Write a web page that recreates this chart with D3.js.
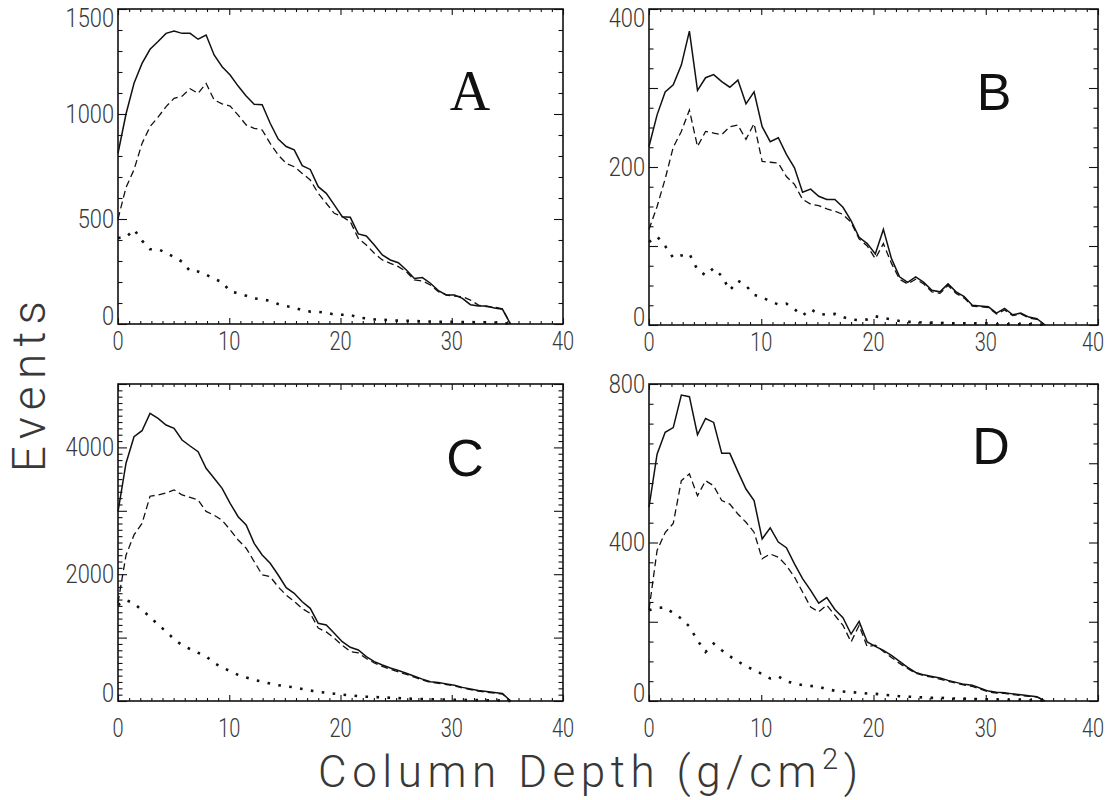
<!DOCTYPE html>
<html><head><meta charset="utf-8">
<script src="https://cdn.jsdelivr.net/npm/d3@7"></script>
<style>body{margin:0;background:#fff}svg{display:block}</style>
</head><body>
<svg id="chart" width="1106" height="800"></svg>
<script>
// ---------- data ----------
const depth = [0,0.72,1.44,2.16,2.88,3.6,4.32,5.04,5.76,6.48,7.2,7.92,8.64,9.36,10.08,10.8,11.52,12.24,12.96,13.68,
  14.4,15.12,15.84,16.56,17.28,18,18.72,19.44,20.16,20.88,21.6,22.32,23.04,23.76,24.48,25.2,25.92,26.64,27.36,28.08,
  28.8,29.52,30.24,30.96,31.68,32.4,33.12,33.84,34.56,35.28];

const solidA  = [813,1000,1146,1241,1308,1345,1384,1395,1384,1384,1356,1376,1281,1225,1186,1133,1086,1046,1044,956,
  881,845,829,754,736,654,622,567,511,508,429,419,376,329,305,292,257,217,221,194,159,138,138,122,92,86,86,76,70,0];
const dashedA = [500,650,735,860,940,985,1035,1075,1085,1120,1098,1146,1067,1048,1038,995,948,932,924,860,
  805,765,749,717,686,622,575,527,511,487,408,376,337,305,289,273,249,210,205,186,154,138,133,130,114,90,83,80,72,0];
const dottedA = [410,412,450,397,356,356,340,318,297,252,250,235,215,200,154,147,135,122,117,110,
  95,85,79,65,59,58,54,45,44,44,30,27,22,20,18,16,15,14,13,12,11,10,10,9,9,8,8,7,6,0];

const solidB  = [226,266,295,304,329,372,297,313,317,308,301,310,280,295,251,232,237,216,199,168,
  172,163,159,159,149,132,111,103,90,121,84,61,54,61,54,44,42,52,42,36,25,24,23,15,21,13,15,10,8,0];
const dashedB = [121,150,185,225,245,272,226,245,243,241,251,253,235,255,207,206,205,188,178,159,
  153,151,147,144,140,130,109,100,84,103,78,58,52,58,52,42,40,50,40,34,24,23,22,14,19,12,14,9,7,0];
const dottedB = [105,112,100,85,88,90,70,63,72,62,44,56,50,38,35,30,26,27,20,12,
  20,14,13,14,10,7,6,7,11,9,7,5,4,4,3,3,3,2,2,2,2,2,2,1,1,1,1,1,1,0];

const solidC  = [2986,3750,4169,4263,4537,4458,4353,4300,4117,4022,3932,3670,3512,3355,3118,2907,2776,2487,2303,2172,
  1987,1787,1698,1566,1462,1225,1199,1068,935,847,804,700,620,568,520,480,437,390,345,304,
  290,270,250,215,190,165,150,135,120,0];
const dashedC = [1550,2300,2620,2800,3230,3250,3280,3330,3250,3210,3170,2990,2930,2850,2700,2540,2410,2200,1990,1960,
  1800,1670,1570,1460,1380,1150,1090,990,880,780,760,670,600,545,500,460,420,375,330,295,
  280,260,240,205,180,155,140,125,110,0];
const dottedC = [1514,1590,1540,1430,1330,1200,1100,975,880,820,760,705,600,530,470,412,370,335,305,275,
  250,232,216,190,165,145,130,115,100,90,78,68,62,58,50,45,40,35,32,28,25,22,20,18,16,14,12,10,8,0];

const solidD  = [489,623,678,690,772,768,672,713,703,625,625,579,535,506,409,437,401,387,346,309,
  279,247,261,231,210,169,201,149,138,128,115,100,85,72,66,62,58,52,47,42,40,32,25,22,21,18,16,13,11,0];
const dashedD = [230,380,425,448,556,573,518,556,543,506,497,472,451,426,359,371,363,342,313,275,
  237,225,242,216,191,149,191,137,141,125,110,95,82,70,64,60,55,50,45,40,37,30,23,20,19,16,14,12,10,0];
const dottedD = [229,235,236,222,208,188,153,124,145,128,113,100,88,78,68,57,62,50,44,40,
  38,36,30,26,24,22,21,19,18,16,14,12,11,10,9,8,8,7,6,6,5,5,4,4,3,3,3,2,2,0];

const panelLetters = ["A","B","C","D"];
const yMax = [1500, 400, 5000, 800];
const yTickLabels = [[0,500,1000,1500],[0,200,400],[0,2000,4000],[0,400,800]];
const xTickLabels = [0,10,20,30,40];
const xTitle = "Column Depth (g/cm";
const xTitleSup = "2";
const yTitle = "Events";

// ---------- layout / style ----------
const boxes = [
  {x0:118, x1:563, y0:9,   y1:324, xLabOff:18, clampTop:true},
  {x0:649, x1:1098, y0:9,  y1:325, xLabOff:18, clampTop:true},
  {x0:118, x1:563, y0:384, y1:701, xLabOff:28, clampTop:false},
  {x0:649, x1:1098, y0:384, y1:701, xLabOff:28, clampTop:false}
];
const yMajorStep = [500,100,1000,200];
const yMinorStep = [100,25,100,50];
const letterStyle = [
  {font:"'Liberation Serif','Times New Roman',serif", size:56, cx:470, by:110},
  {font:"'Liberation Sans',Arial,sans-serif", size:52, cx:994, by:110},
  {font:"'Liberation Sans',Arial,sans-serif", size:52, cx:465, by:476},
  {font:"'Liberation Sans',Arial,sans-serif", size:52, cx:991, by:464}
];
const series = [
  [solidA, dashedA, dottedA],
  [solidB, dashedB, dottedB],
  [solidC, dashedC, dottedC],
  [solidD, dashedD, dottedD]
];
const lineStyles = [
  {w:1.5, dash:null},
  {w:1.3, dash:"7,4"},
  {w:2.6, dash:"2.6,8.4"}
];
const labelFont = "Roboto, 'DejaVu Sans', sans-serif";
const ink = "#111";
const labelInk = "#383838";
const labelScaleX = 0.8;

const svg = d3.select("#chart");

function axisTicks(g, axisFn, scale, values, size){
  g.call(axisFn(scale).tickValues(values).tickSize(size).tickFormat(""));
  g.select(".domain").remove();
  g.selectAll(".tick line").attr("stroke", ink).attr("stroke-width", 1.1);
}

panelLetters.forEach((name, p) => {
  const b = boxes[p];
  const x = d3.scaleLinear().domain([0,40]).range([b.x0, b.x1]);
  const y = d3.scaleLinear().domain([0,yMax[p]]).range([b.y1, b.y0]);
  const g = svg.append("g");

  const xMaj = d3.range(0, 40.001, 10);
  const xMin = d3.range(0, 40.001, 1).filter(v => v % 10 !== 0);
  const yMaj = d3.range(0, yMax[p] + 0.001, yMajorStep[p]);
  const yMin = d3.range(0, yMax[p] + 0.001, yMinorStep[p]).filter(v => v % yMajorStep[p] !== 0);

  // ticks (inward, on all four sides)
  axisTicks(g.append("g").attr("transform",`translate(0,${b.y1})`), d3.axisBottom, x, xMaj, -6);
  axisTicks(g.append("g").attr("transform",`translate(0,${b.y1})`), d3.axisBottom, x, xMin, -3);
  axisTicks(g.append("g").attr("transform",`translate(0,${b.y0})`), d3.axisTop, x, xMaj, -6);
  axisTicks(g.append("g").attr("transform",`translate(0,${b.y0})`), d3.axisTop, x, xMin, -3);
  axisTicks(g.append("g").attr("transform",`translate(${b.x0},0)`), d3.axisLeft, y, yMaj, -9);
  axisTicks(g.append("g").attr("transform",`translate(${b.x0},0)`), d3.axisLeft, y, yMin, -4.5);
  axisTicks(g.append("g").attr("transform",`translate(${b.x1},0)`), d3.axisRight, y, yMaj, -9);
  axisTicks(g.append("g").attr("transform",`translate(${b.x1},0)`), d3.axisRight, y, yMin, -4.5);

  // frame
  g.append("rect").attr("x", b.x0).attr("y", b.y0)
    .attr("width", b.x1 - b.x0).attr("height", b.y1 - b.y0)
    .attr("fill","none").attr("stroke", ink).attr("stroke-width", 1.6);

  // x tick labels
  xTickLabels.forEach(v => {
    const cx = Math.min(x(v), 1093);
    g.append("g").attr("transform", `translate(${cx},${b.y1 + b.xLabOff}) scale(${labelScaleX},1)`)
      .append("text").text(v)
      .attr("text-anchor","middle").attr("dominant-baseline","central")
      .attr("font-family", labelFont).attr("font-weight", 300)
      .attr("font-size", 25).attr("fill", labelInk);
  });
  // y tick labels
  yTickLabels[p].forEach(v => {
    let cy = Math.min(b.y1 - 8, y(v));
    if (b.clampTop) cy = Math.max(b.y0 + 9, cy);
    g.append("g").attr("transform", `translate(${b.x0 - 4},${cy}) scale(0.84,1)`)
      .append("text").text(v)
      .attr("text-anchor","end").attr("dominant-baseline","central")
      .attr("font-family", labelFont).attr("font-weight", 300)
      .attr("font-size", 26).attr("fill", labelInk);
  });

  // curves
  series[p].forEach((vals, s) => {
    const line = d3.line().x((d,i) => x(depth[i])).y(d => y(d));
    const st = lineStyles[s];
    const path = g.append("path").datum(vals).attr("d", line)
      .attr("fill","none").attr("stroke", ink)
      .attr("stroke-width", st.w).attr("stroke-linejoin","miter");
    if (st.dash) path.attr("stroke-dasharray", st.dash);
  });

  // panel letter
  const ls = letterStyle[p];
  g.append("text").text(name).attr("x", ls.cx).attr("y", ls.by)
    .attr("text-anchor","middle").attr("font-family", ls.font)
    .attr("font-size", ls.size).attr("fill", ink);
});

// axis titles
const yt = svg.append("text").text(yTitle)
  .attr("transform","translate(45,383) rotate(-90)")
  .attr("text-anchor","middle")
  .attr("font-family", labelFont).attr("font-weight", 300)
  .attr("font-size", 46).attr("fill", labelInk);
{
  const w = yt.node().getComputedTextLength();
  yt.attr("letter-spacing", (171 - w) / (yTitle.length - 1));
}

const xt = svg.append("text")
  .attr("x", 318).attr("y", 787)
  .attr("font-family", labelFont).attr("font-weight", 300)
  .attr("font-size", 44).attr("fill", labelInk);
xt.append("tspan").text(xTitle);
xt.append("tspan").text(xTitleSup).attr("dy", -18).attr("font-size", 29);
xt.append("tspan").text(")").attr("dy", 18);
{
  const w = xt.node().getComputedTextLength();
  const n = xTitle.length + xTitleSup.length + 1;
  xt.attr("letter-spacing", (540 - w) / (n - 1));
}
</script>
</body></html>
